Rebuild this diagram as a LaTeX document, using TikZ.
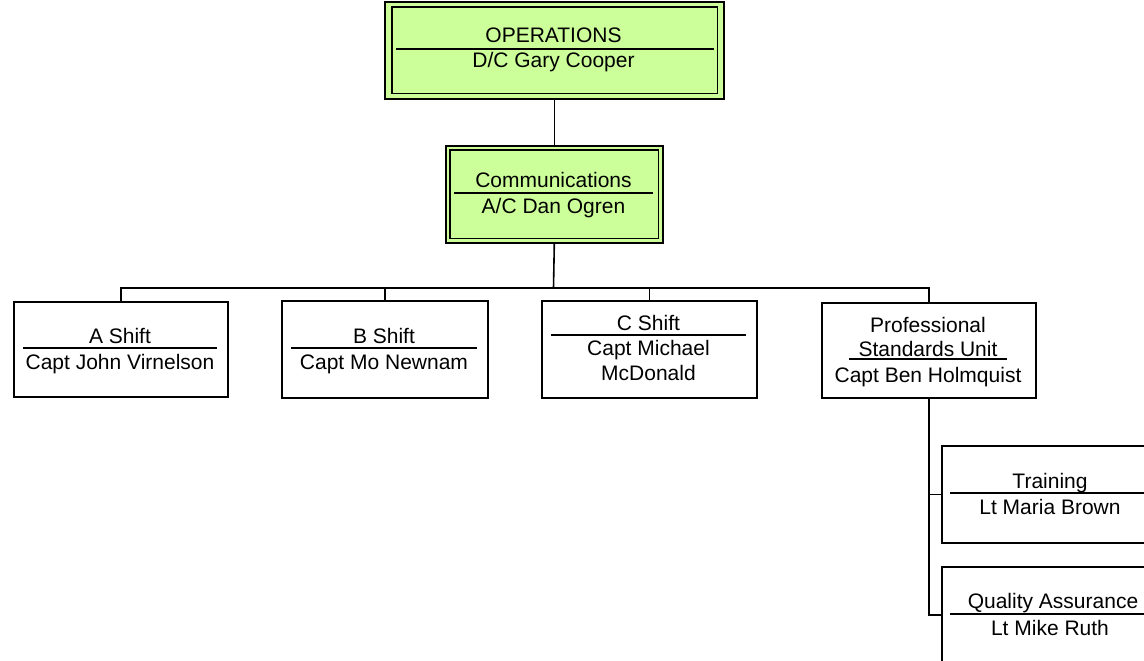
\documentclass[tikz,border=0pt]{standalone}
\usepackage{fontspec}
\setmainfont{Liberation Sans}
\definecolor{boxgreen}{HTML}{CCFF99}
\begin{document}
\begin{tikzpicture}[x=1pt,y=-1pt,
  lw/.style={line width=1.6pt},
  box/.style={draw, lw, fill=white, inner sep=0pt, anchor=north west},
  gbox/.style={box, fill=boxgreen},
  txt/.style={anchor=base, inner sep=0pt, font=\fontsize{21}{25}\selectfont},
  div/.style={lw},
  conn/.style={lw}]
\useasboundingbox (0,0) rectangle (1144,661);
\clip (0,0) rectangle (1144,661);
% top boxes
\node[gbox, minimum width=339pt, minimum height=97pt] (ops) at (384,1) {};
\draw[lw] ([shift={(8,6)}]ops.north west) rectangle ([shift={(-7,-6)}]ops.south east);
\draw[div] (396,49) -- (714,49);
\node[txt] (opsT) at (553.5,43) {OPERATIONS};
\node[txt] (opsN) at (553.5,68) {D/C Gary Cooper};

\node[gbox, minimum width=217pt, minimum height=97pt] (comm) at (445,145) {};
\draw[lw] ([shift={(5,5)}]comm.north west) rectangle ([shift={(-5,-5)}]comm.south east);
\draw[div] (454,193) -- (653,193);
\node[txt] (commT) at (553.5,187) {Communications};
\node[txt] (commN) at (553.5,213) {A/C Dan Ogren};

% second row
\node[box, minimum width=214pt, minimum height=95pt] (A) at (13,301) {};
\draw[div] (23,348) -- (217,348);
\node[txt] (AT) at (120,343) {A Shift};
\node[txt] (AN) at (120,369) {Capt John Virnelson};

\node[box, minimum width=206pt, minimum height=97pt] (B) at (281,300) {};
\draw[div] (291,348) -- (477,348);
\node[txt] (BT) at (384,343) {B Shift};
\node[txt] (BN) at (384,369) {Capt Mo Newnam};

\node[box, minimum width=215pt, minimum height=97pt] (C) at (541,300) {};
\draw[div] (551,335) -- (746,335);
\node[txt] (CT) at (648.5,330) {C Shift};
\node[txt] (CN1) at (648.5,355) {Capt Michael};
\node[txt] (CN2) at (648.5,380) {McDonald};

\node[box, minimum width=214pt, minimum height=95pt] (P) at (821,302) {};
\draw[div] (849,359) -- (1007,359);
\node[txt] (PT1) at (928,332) {Professional};
\node[txt] (PT2) at (928,356) {Standards Unit};
\node[txt] (PN) at (928,382) {Capt Ben Holmquist};

% third level
\node[box, minimum width=214pt, minimum height=97pt] (T) at (941,445) {};
\draw[div] (950,493) -- (1150,493);
\node[txt] (TT) at (1050,488) {Training};
\node[txt] (TN) at (1050,514) {Lt Maria Brown};

\node[box, minimum width=214pt, minimum height=96pt] (Q) at (941,566) {};
\draw[div] (950,614) -- (1150,614);
\node[txt] (QT) at (1053,608) {Quality Assurance};
\node[txt] (QN) at (1050,635) {Lt Mike Ruth};

% connectors
\coordinate (bus) at (553.5,288);
\draw[conn] (ops.south) -- (comm.north);
\draw[conn] (comm.south) -- (bus);
\draw[conn] (A.north) -- (A.north |- bus) -- (P.north |- bus) -- (P.north);
\draw[conn] (B.north) -- (B.north |- bus);
\draw[conn] (C.north) -- (C.north |- bus);
\draw[conn] (P.south) -- (P.south |- Q.west) -- (Q.west);
\draw[conn] (P.south |- T.west) -- (T.west);
\end{tikzpicture}
\end{document}
